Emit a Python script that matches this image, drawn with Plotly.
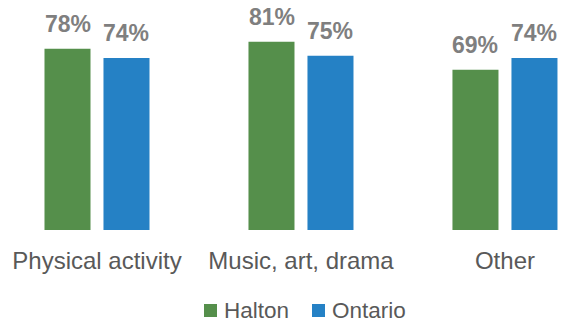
import plotly.graph_objects as go

categories = ["Physical activity", "Music, art, drama", "Other"]
halton = [78, 81, 69]
ontario = [74, 75, 74]
series_names = ["Halton", "Ontario"]

GREEN = "#558F4B"
BLUE = "#2581C5"
LABEL_GRAY = "#7F7F7F"
TICK_GRAY = "#595959"
FONT = "Liberation Sans, Arial, sans-serif"

W, H = 568, 325
PLOT_BOTTOM = 230  # pixel row of the category axis


def px_x(px):
    return px / W


def px_y(py):
    return (PLOT_BOTTOM - py) / PLOT_BOTTOM


fig = go.Figure()
fig.add_trace(go.Bar(name=series_names[0], x=categories, y=halton,
                     marker_color=GREEN, marker_line_width=0))
fig.add_trace(go.Bar(name=series_names[1], x=categories, y=ontario,
                     marker_color=BLUE, marker_line_width=0))

# value labels above each bar
slot = 0.289
for series, shift in ((halton, -slot / 2), (ontario, slot / 2)):
    for i, v in enumerate(series):
        fig.add_annotation(x=i + shift, y=v, xref="x", yref="y",
                           text=f"{v}%", showarrow=False,
                           yanchor="bottom", yshift=10,
                           font=dict(family=FONT, size=23, color=LABEL_GRAY,
                                     weight="bold"))

# legend drawn as swatches + labels below the axis
legend_items = [(series_names[0], GREEN, 204), (series_names[1], BLUE, 312)]
for name, color, x0 in legend_items:
    fig.add_shape(type="rect", xref="paper", yref="paper",
                  x0=px_x(x0), x1=px_x(x0 + 13), y0=px_y(317), y1=px_y(304),
                  fillcolor=color, line_width=0)
    fig.add_annotation(x=px_x(x0 + 18), y=px_y(310), xref="paper", yref="paper",
                       text=name, showarrow=False, xanchor="left",
                       yanchor="middle",
                       font=dict(family=FONT, size=22.5, color=TICK_GRAY))

fig.update_layout(
    width=W, height=H,
    margin=dict(l=0, r=0, t=0, b=H - PLOT_BOTTOM),
    paper_bgcolor="white", plot_bgcolor="white",
    barmode="group", bargap=0.4216, bargroupgap=0.22,
    showlegend=False,
    xaxis=dict(type="category", range=[-0.4755, 2.309], showgrid=False,
               showline=False, zeroline=False, ticks="outside", ticklen=9,
               tickcolor="rgba(0,0,0,0)",
               tickfont=dict(family=FONT, size=24, color=TICK_GRAY)),
    yaxis=dict(range=[0, 99], visible=False, showgrid=False, zeroline=False),
)

fig.write_html("out.html")
